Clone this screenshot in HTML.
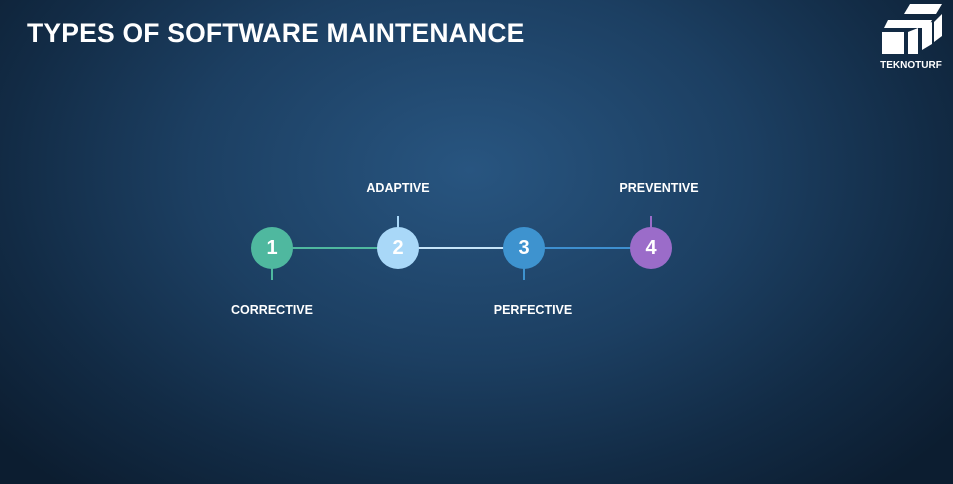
<!DOCTYPE html>
<html><head><style>
html,body{margin:0;padding:0}
body{width:953px;height:484px;overflow:hidden;position:relative;font-family:"Liberation Sans",sans-serif;
background:radial-gradient(ellipse 620px 420px at 470px 170px,#285580 0%,#1c3f62 45%,#122b45 75%,#0c1d30 100%);}
.t{position:absolute;left:27px;top:18px;color:#fff;font-weight:bold;font-size:26.5px;letter-spacing:0.2px}
.l{position:absolute;color:#fff;font-weight:bold;font-size:12.5px;transform:translateX(-50%);white-space:nowrap}
.c{position:absolute;width:42px;height:42px;border-radius:50%;color:#fff;font-weight:bold;font-size:20px;line-height:42px;text-align:center;transform:translate(-50%,-50%);top:248px}
.ln{position:absolute;height:2px;top:247px}
.tk{position:absolute;width:2px;height:12px}
</style></head><body>
<div class="t">TYPES OF SOFTWARE MAINTENANCE</div>
<div class="ln" style="left:272px;width:126px;background:#4fb89f"></div>
<div class="ln" style="left:398px;width:126px;background:#c6e4f8"></div>
<div class="ln" style="left:524px;width:127px;background:#3e8fcf"></div>
<div class="tk" style="left:271px;top:268px;background:#4fb89f"></div>
<div class="tk" style="left:397px;top:216px;background:#a9d8f8"></div>
<div class="tk" style="left:523px;top:268px;background:#3e93cf"></div>
<div class="tk" style="left:650px;top:216px;background:#9b6cc9"></div>
<div class="c" style="left:272px;background:#4fb89f">1</div>
<div class="c" style="left:398px;background:#a9d8f8">2</div>
<div class="c" style="left:524px;background:#3e93cf">3</div>
<div class="c" style="left:651px;background:#9b6cc9">4</div>
<div class="l" style="left:272px;top:303px">CORRECTIVE</div>
<div class="l" style="left:398px;top:181px">ADAPTIVE</div>
<div class="l" style="left:533px;top:303px">PERFECTIVE</div>
<div class="l" style="left:659px;top:181px">PREVENTIVE</div>
<svg style="position:absolute;left:870px;top:0" width="83" height="75">
<polygon points="40,4 72,4 66,14 34,14" fill="#fff"/>
<polygon points="18,20 62,20 58,28 14,28" fill="#fff"/>
<rect x="12" y="32" width="22" height="22" fill="#fff"/>
<polygon points="38,32 48,28 48,54 38,54" fill="#fff"/>
<polygon points="52,26 62,22 62,44 52,50" fill="#fff"/>
<polygon points="64,22 72,14 72,36 64,42" fill="#fff"/>
<text x="41" y="68" fill="#fff" font-family="Liberation Sans" font-weight="bold" font-size="10" text-anchor="middle">TEKNOTURF</text>
</svg>
</body></html>
